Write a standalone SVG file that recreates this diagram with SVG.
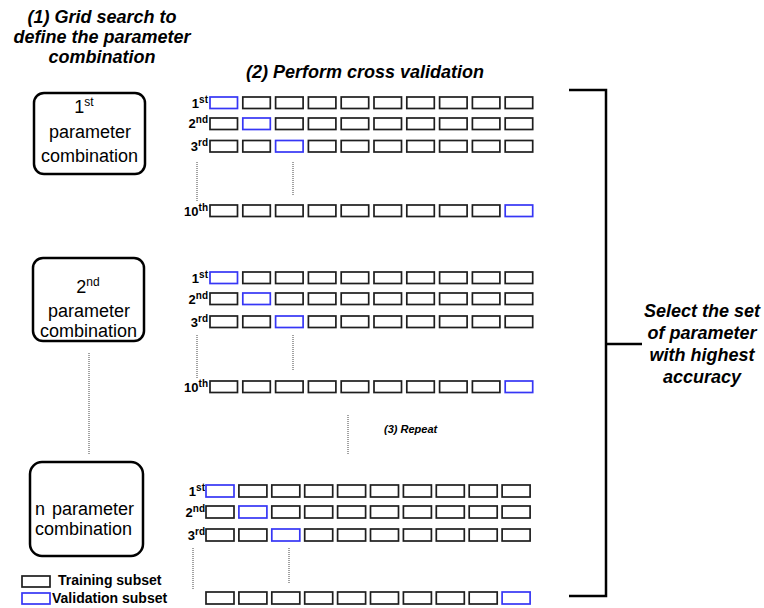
<svg xmlns="http://www.w3.org/2000/svg" xmlns:xlink="http://www.w3.org/1999/xlink" width="764" height="608" viewBox="0 0 764 608">
<style>
.tr{fill:#fff;stroke:#1e1e1e;stroke-width:1.7}
.va{fill:#fff;stroke:#3636f5;stroke-width:1.7}
.dot{stroke:#444;stroke-width:1;stroke-dasharray:1 1;fill:none}
.br{stroke:#000;stroke-width:2.5;fill:none}
.pbox{fill:#fff;stroke:#000;stroke-width:2.5}
.h{font-family:"Liberation Sans",Arial,sans-serif;font-weight:bold;font-style:italic;font-size:18px;fill:#000}
.rl{font-family:"Liberation Sans",Arial,sans-serif;font-weight:bold;font-size:13px;fill:#000}
.sp{font-size:10px}
.bt{font-family:"Liberation Sans",Arial,sans-serif;font-size:18px;fill:#000}
.bs{font-size:12px}
.lg{font-family:"Liberation Sans",Arial,sans-serif;font-weight:bold;font-size:14px;fill:#000}
.rp{font-family:"Liberation Sans",Arial,sans-serif;font-weight:bold;font-style:italic;font-size:11px;fill:#000}
</style>
<defs>
<rect id="t" class="tr" width="27.5" height="11.5"/>
<rect id="v" class="va" width="27.5" height="11.5"/>
<rect id="t3" class="tr" width="28" height="12"/>
<rect id="v3" class="va" width="28" height="12"/>
</defs>
<rect width="764" height="608" fill="#fff"/>

<g id="titles">
<text class="h" text-anchor="middle" x="102" y="23">(1) Grid search to</text>
<text class="h" text-anchor="middle" x="102" y="43">define the parameter</text>
<text class="h" text-anchor="middle" x="102" y="63">combination</text>
<text class="h" text-anchor="middle" x="365" y="78">(2) Perform cross validation</text>
<text class="rp" x="384" y="433">(3) Repeat</text>
</g>

<g id="param1">
<rect class="pbox" x="34" y="93" width="111" height="81" rx="10"/>
<text class="bt" text-anchor="middle" x="84" y="113">1<tspan class="bs" dy="-7">st</tspan></text>
<text class="bt" text-anchor="middle" x="90" y="138">parameter</text>
<text class="bt" text-anchor="middle" x="89.5" y="162">combination</text>
</g>
<g id="param2">
<rect class="pbox" x="33" y="258" width="111" height="83" rx="10"/>
<text class="bt" text-anchor="middle" x="88" y="293">2<tspan class="bs" dy="-7">nd</tspan></text>
<text class="bt" text-anchor="middle" x="89" y="317">parameter</text>
<text class="bt" text-anchor="middle" x="88.5" y="337">combination</text>
</g>
<g id="paramN">
<rect class="pbox" x="30" y="462" width="113" height="94" rx="12"/>
<text class="bt" x="35" y="515">n<tspan x="52">parameter</tspan></text>
<text class="bt" x="35" y="535">combination</text>
</g>

<g id="cv1">
<text class="rl" text-anchor="end" x="208" y="108">1<tspan class="sp" dy="-5">st</tspan></text>
<text class="rl" text-anchor="end" x="208" y="128">2<tspan class="sp" dy="-5">nd</tspan></text>
<text class="rl" text-anchor="end" x="208" y="151">3<tspan class="sp" dy="-5">rd</tspan></text>
<text class="rl" text-anchor="end" x="208" y="216">10<tspan class="sp" dy="-5">th</tspan></text>
<use href="#v" x="210" y="97"/><use href="#t" x="242.8" y="97"/><use href="#t" x="275.6" y="97"/><use href="#t" x="308.4" y="97"/><use href="#t" x="341.2" y="97"/><use href="#t" x="374" y="97"/><use href="#t" x="406.8" y="97"/><use href="#t" x="439.6" y="97"/><use href="#t" x="472.4" y="97"/><use href="#t" x="505.2" y="97"/>
<use href="#t" x="210" y="118"/><use href="#v" x="242.8" y="118"/><use href="#t" x="275.6" y="118"/><use href="#t" x="308.4" y="118"/><use href="#t" x="341.2" y="118"/><use href="#t" x="374" y="118"/><use href="#t" x="406.8" y="118"/><use href="#t" x="439.6" y="118"/><use href="#t" x="472.4" y="118"/><use href="#t" x="505.2" y="118"/>
<use href="#t" x="210" y="140.5"/><use href="#t" x="242.8" y="140.5"/><use href="#v" x="275.6" y="140.5"/><use href="#t" x="308.4" y="140.5"/><use href="#t" x="341.2" y="140.5"/><use href="#t" x="374" y="140.5"/><use href="#t" x="406.8" y="140.5"/><use href="#t" x="439.6" y="140.5"/><use href="#t" x="472.4" y="140.5"/><use href="#t" x="505.2" y="140.5"/>
<use href="#t" x="210" y="205"/><use href="#t" x="242.8" y="205"/><use href="#t" x="275.6" y="205"/><use href="#t" x="308.4" y="205"/><use href="#t" x="341.2" y="205"/><use href="#t" x="374" y="205"/><use href="#t" x="406.8" y="205"/><use href="#t" x="439.6" y="205"/><use href="#t" x="472.4" y="205"/><use href="#v" x="505.2" y="205"/>
</g>

<g id="cv2">
<text class="rl" text-anchor="end" x="208" y="283">1<tspan class="sp" dy="-5">st</tspan></text>
<text class="rl" text-anchor="end" x="208" y="304">2<tspan class="sp" dy="-5">nd</tspan></text>
<text class="rl" text-anchor="end" x="208" y="327">3<tspan class="sp" dy="-5">rd</tspan></text>
<text class="rl" text-anchor="end" x="208" y="392">10<tspan class="sp" dy="-5">th</tspan></text>
<use href="#v" x="210" y="272"/><use href="#t" x="242.8" y="272"/><use href="#t" x="275.6" y="272"/><use href="#t" x="308.4" y="272"/><use href="#t" x="341.2" y="272"/><use href="#t" x="374" y="272"/><use href="#t" x="406.8" y="272"/><use href="#t" x="439.6" y="272"/><use href="#t" x="472.4" y="272"/><use href="#t" x="505.2" y="272"/>
<use href="#t" x="210" y="293"/><use href="#v" x="242.8" y="293"/><use href="#t" x="275.6" y="293"/><use href="#t" x="308.4" y="293"/><use href="#t" x="341.2" y="293"/><use href="#t" x="374" y="293"/><use href="#t" x="406.8" y="293"/><use href="#t" x="439.6" y="293"/><use href="#t" x="472.4" y="293"/><use href="#t" x="505.2" y="293"/>
<use href="#t" x="210" y="316"/><use href="#t" x="242.8" y="316"/><use href="#v" x="275.6" y="316"/><use href="#t" x="308.4" y="316"/><use href="#t" x="341.2" y="316"/><use href="#t" x="374" y="316"/><use href="#t" x="406.8" y="316"/><use href="#t" x="439.6" y="316"/><use href="#t" x="472.4" y="316"/><use href="#t" x="505.2" y="316"/>
<use href="#t" x="210" y="381"/><use href="#t" x="242.8" y="381"/><use href="#t" x="275.6" y="381"/><use href="#t" x="308.4" y="381"/><use href="#t" x="341.2" y="381"/><use href="#t" x="374" y="381"/><use href="#t" x="406.8" y="381"/><use href="#t" x="439.6" y="381"/><use href="#t" x="472.4" y="381"/><use href="#v" x="505.2" y="381"/>
</g>

<g id="cv3">
<text class="rl" text-anchor="end" x="205" y="496">1<tspan class="sp" dy="-5">st</tspan></text>
<text class="rl" text-anchor="end" x="205" y="517">2<tspan class="sp" dy="-5">nd</tspan></text>
<text class="rl" text-anchor="end" x="205" y="540">3<tspan class="sp" dy="-5">rd</tspan></text>
<use href="#v3" x="206" y="485"/><use href="#t3" x="238.9" y="485"/><use href="#t3" x="271.8" y="485"/><use href="#t3" x="304.7" y="485"/><use href="#t3" x="337.6" y="485"/><use href="#t3" x="370.5" y="485"/><use href="#t3" x="403.4" y="485"/><use href="#t3" x="436.3" y="485"/><use href="#t3" x="469.2" y="485"/><use href="#t3" x="502.1" y="485"/>
<use href="#t3" x="206" y="506"/><use href="#v3" x="238.9" y="506"/><use href="#t3" x="271.8" y="506"/><use href="#t3" x="304.7" y="506"/><use href="#t3" x="337.6" y="506"/><use href="#t3" x="370.5" y="506"/><use href="#t3" x="403.4" y="506"/><use href="#t3" x="436.3" y="506"/><use href="#t3" x="469.2" y="506"/><use href="#t3" x="502.1" y="506"/>
<use href="#t3" x="206" y="529"/><use href="#t3" x="238.9" y="529"/><use href="#v3" x="271.8" y="529"/><use href="#t3" x="304.7" y="529"/><use href="#t3" x="337.6" y="529"/><use href="#t3" x="370.5" y="529"/><use href="#t3" x="403.4" y="529"/><use href="#t3" x="436.3" y="529"/><use href="#t3" x="469.2" y="529"/><use href="#t3" x="502.1" y="529"/>
<use href="#t3" x="206" y="592"/><use href="#t3" x="238.9" y="592"/><use href="#t3" x="271.8" y="592"/><use href="#t3" x="304.7" y="592"/><use href="#t3" x="337.6" y="592"/><use href="#t3" x="370.5" y="592"/><use href="#t3" x="403.4" y="592"/><use href="#t3" x="436.3" y="592"/><use href="#t3" x="469.2" y="592"/><use href="#v3" x="502.1" y="592"/>
</g>

<g id="connectors">
<line class="dot" x1="197" y1="162" x2="197" y2="202"/>
<line class="dot" x1="293" y1="162" x2="293" y2="195"/>
<line class="dot" x1="197" y1="335" x2="197" y2="378"/>
<line class="dot" x1="293" y1="335" x2="293" y2="370"/>
<line class="dot" x1="193" y1="548" x2="193" y2="590"/>
<line class="dot" x1="289" y1="548" x2="289" y2="583"/>
<line class="dot" x1="348" y1="415" x2="348" y2="455"/>
<line class="dot" x1="89" y1="353" x2="89" y2="455"/>
<path class="br" d="M569,90 H606 V596 H569 M606,344 H642"/>
</g>

<g id="select">
<text class="h" text-anchor="middle" x="702" y="317">Select the set</text>
<text class="h" text-anchor="middle" x="702" y="339">of parameter</text>
<text class="h" text-anchor="middle" x="702" y="361">with highest</text>
<text class="h" text-anchor="middle" x="702" y="383">accuracy</text>
</g>

<g id="legend">
<rect class="tr" x="22" y="576" width="28" height="11"/>
<text class="lg" x="58" y="585">Training subset</text>
<rect class="va" x="22" y="593" width="28" height="11"/>
<text class="lg" x="52" y="603">Validation subset</text>
</g>
</svg>
